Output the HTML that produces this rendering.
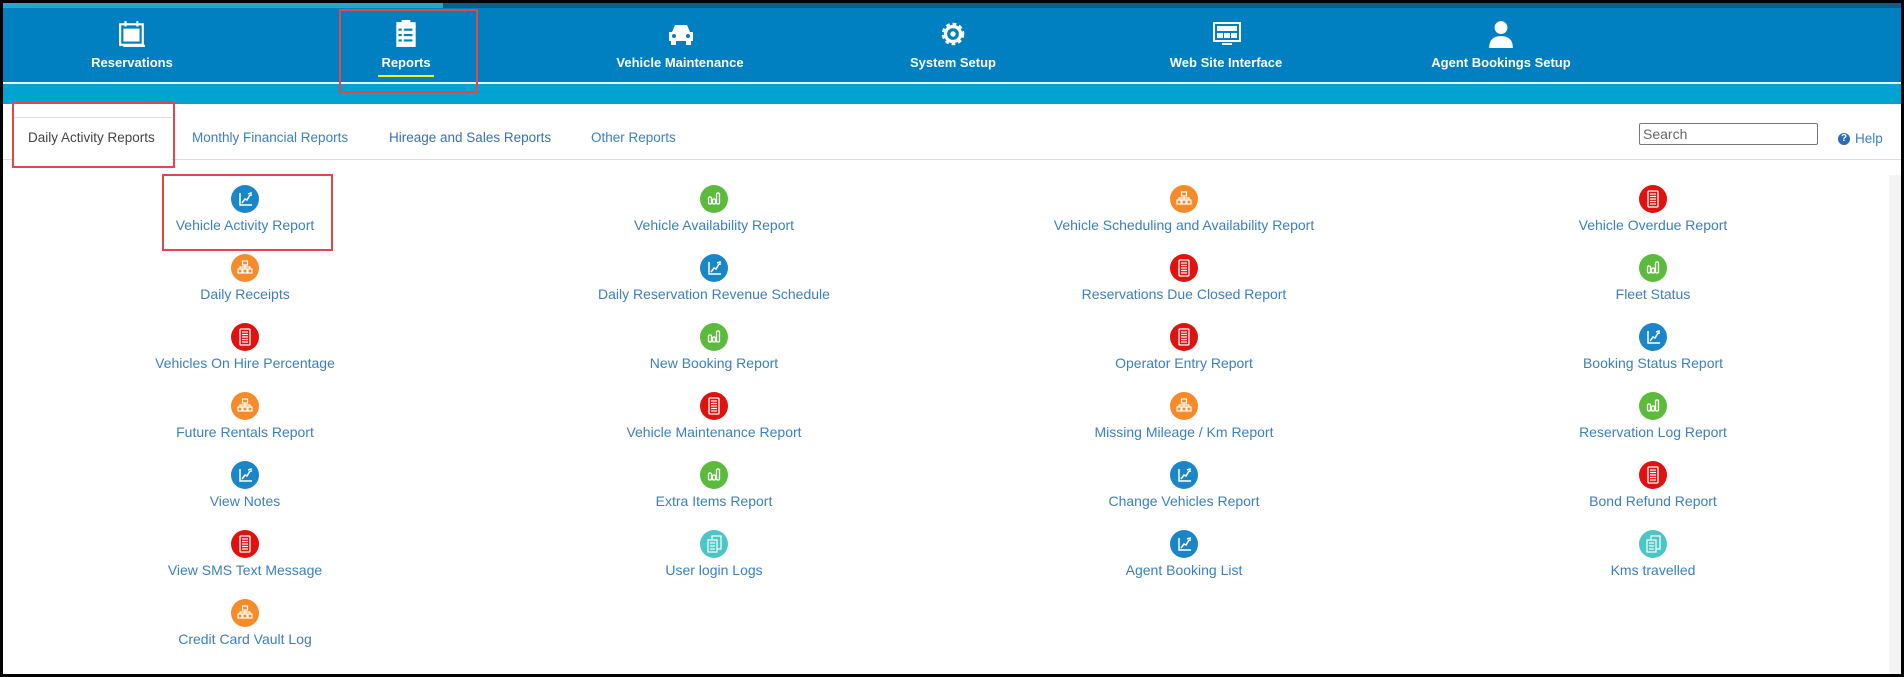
<!DOCTYPE html>
<html><head><meta charset="utf-8">
<style>
*{margin:0;padding:0;box-sizing:border-box}
body{width:1904px;height:677px;background:#000;position:relative;overflow:hidden;font-family:"Liberation Sans",Arial,sans-serif}
#page{position:absolute;left:3px;top:3px;width:1898px;height:671px;background:#fff;overflow:hidden}
.nav{position:absolute;left:0;top:5px;width:1898px;height:74px;background:#0180c1}
.topline{position:absolute;left:0;top:0;width:1898px;height:5px;background:#0a5f85}
.topline2{position:absolute;left:0;top:0;width:440px;height:5px;background:#2aa3cf}
.wline{position:absolute;left:0;top:79px;width:1898px;height:2px;background:#e8f4fa}
.sub{position:absolute;left:0;top:81px;width:1898px;height:20px;background:#01a4d1}
.ni{position:absolute;top:0;width:240px;margin-left:-120px;text-align:center;color:#fff}
.ni svg{position:absolute;left:106px;top:12px}
.ni span{position:absolute;left:0;width:240px;top:47px;font-weight:bold;font-size:13px;display:block}
.tab{position:absolute;top:127px;font-size:13.5px;color:#3b7fc0;white-space:nowrap}
.hline{position:absolute;left:0;top:156px;width:1898px;height:1px;background:#ddd}
.red{position:absolute;border:2px solid #e34848}
.it{position:absolute;width:400px;margin-left:-200px;text-align:center}
.it svg{display:block;margin:0 auto}
.it span{display:block;font-size:14px;color:#3b7fc0;white-space:nowrap;margin-top:4px}
</style></head><body>
<div id="page">
<div class="topline"></div><div class="topline2"></div>
<div class="nav">
 <div class="ni" style="left:129px"><svg width="28" height="28" viewBox="0 0 26 26"><rect x="2" y="4" width="21" height="19" fill="none" stroke="#fff" stroke-width="2"/><rect x="5" y="8" width="15" height="12" fill="#fff"/><rect x="6" y="1" width="2" height="5" fill="#fff"/><rect x="17" y="1" width="2" height="5" fill="#fff"/><rect x="5" y="23" width="20" height="2" fill="#fff"/></svg><span>Reservations</span></div>
 <div class="ni" style="left:403px"><svg width="28" height="28" viewBox="0 0 26 26"><rect x="4" y="2" width="18" height="23" fill="#fff"/><rect x="9" y="0" width="8" height="4" fill="#fff"/><g stroke="#0180c1" stroke-width="2"><line x1="11" y1="9" x2="19" y2="9"/><line x1="11" y1="14" x2="19" y2="14"/><line x1="11" y1="19" x2="19" y2="19"/><line x1="6" y1="9" x2="9" y2="9"/><line x1="6" y1="14" x2="9" y2="14"/><line x1="6" y1="19" x2="9" y2="19"/></g></svg><span>Reports</span><div style="position:absolute;left:92px;top:67px;width:56px;height:2px;background:#f2ef1a"></div></div>
 <div class="ni" style="left:677px"><svg width="30" height="28" viewBox="0 0 30 26"><path d="M6 11 L9 4 H21 L24 11 H27 V20 H3 V11Z" fill="#fff"/><rect x="5" y="19" width="5" height="5" fill="#fff"/><rect x="20" y="19" width="5" height="5" fill="#fff"/><circle cx="8" cy="15" r="2" fill="#0180c1"/><circle cx="22" cy="15" r="2" fill="#0180c1"/></svg><span>Vehicle Maintenance</span></div>
 <div class="ni" style="left:950px"><svg width="28" height="28" viewBox="0 0 26 26"><circle cx="13" cy="13" r="8" fill="none" stroke="#fff" stroke-width="5" stroke-dasharray="3 2.3"/><circle cx="13" cy="13" r="7" fill="none" stroke="#fff" stroke-width="3"/><circle cx="13" cy="13" r="2.5" fill="#fff"/></svg><span>System Setup</span></div>
 <div class="ni" style="left:1223px"><svg width="30" height="28" viewBox="0 0 30 26"><rect x="2" y="2" width="26" height="18" fill="none" stroke="#fff" stroke-width="2"/><rect x="5" y="5" width="20" height="5" fill="#fff"/><rect x="5" y="12" width="6" height="5" fill="#fff"/><rect x="12" y="12" width="6" height="5" fill="#fff"/><rect x="19" y="12" width="6" height="5" fill="#fff"/><rect x="10" y="22" width="10" height="2" fill="#fff"/></svg><span>Web Site Interface</span></div>
 <div class="ni" style="left:1498px"><svg width="28" height="28" viewBox="0 0 26 26"><circle cx="13" cy="7" r="6" fill="#fff"/><path d="M2 26 Q2 15 13 15 Q24 15 24 26Z" fill="#fff"/></svg><span>Agent Bookings Setup</span></div>
</div>
<div class="wline"></div>
<div class="sub"></div>
<div class="red" style="left:336px;top:6px;width:139px;height:84px"></div>

<div class="hline"></div>
<div style="position:absolute;left:9px;top:114px;width:160px;height:43px;background:#fff;border-top:1px solid #ddd"></div>
<div class="tab" style="left:25px;color:#444">Daily Activity Reports</div>
<div class="tab" style="left:189px">Monthly Financial Reports</div>
<div class="tab" style="left:386px;color:#3b6fb0">Hireage and Sales Reports</div>
<div class="tab" style="left:588px">Other Reports</div>
<div class="red" style="left:9px;top:99px;width:163px;height:66px"></div>
<div style="position:absolute;left:1636px;top:120px;width:179px;height:22px;border:1px solid #777;border-radius:2px;font-size:14px;color:#666;padding:2px 3px">Search</div>
<div style="position:absolute;left:1835px;top:130px;width:12px;height:12px;border-radius:50%;background:#2a6db0;color:#fff;font-size:10px;font-weight:bold;text-align:center;line-height:12px">?</div>
<div class="tab" style="left:1852px;top:128px">Help</div>
<div style="position:absolute;left:1886px;top:172px;width:12px;height:500px;background:#f4f4f4"></div>

<svg width="0" height="0" style="position:absolute">
<defs>
<g id="chart"><path d="M9 8 V20 H21" fill="none" stroke="#fff" stroke-width="1.5"/><path d="M11 18 L14 14 L16 15 L19 10" fill="none" stroke="#fff" stroke-width="1.5"/><path d="M17 9 L20 8 L20 11" fill="none" stroke="#fff" stroke-width="1.5"/></g>
<g id="bars"><rect x="8.5" y="12" width="3" height="7" rx="1.2" fill="none" stroke="#fff" stroke-width="1.3"/><rect x="12.5" y="14" width="3" height="5" rx="1.2" fill="none" stroke="#fff" stroke-width="1.3"/><rect x="16.5" y="8" width="3" height="11" rx="1.2" fill="none" stroke="#fff" stroke-width="1.3"/></g>
<g id="org" fill="none" stroke="#fff" stroke-width="1.2"><rect x="11.5" y="7" width="5" height="4"/><path d="M14 11 V13 M9 15 V13 H19 V15 M14 13 V15"/><rect x="7" y="15" width="4" height="4"/><rect x="12" y="15" width="4" height="4"/><rect x="17" y="15" width="4" height="4"/></g>
<g id="doc"><rect x="9" y="6" width="10" height="16" rx="1" fill="none" stroke="#fff" stroke-width="1.3"/><g stroke="#fff" stroke-width="1.2"><line x1="11" y1="9" x2="17" y2="9"/><line x1="11" y1="11.5" x2="17" y2="11.5"/><line x1="11" y1="14" x2="17" y2="14"/><line x1="11" y1="16.5" x2="17" y2="16.5"/><line x1="11" y1="19" x2="17" y2="19"/></g></g>
<g id="docs" fill="none" stroke="#fff" stroke-width="1.2"><rect x="12" y="6" width="9" height="13"/><rect x="8" y="10" width="9" height="12" fill="#4cc6c4"/><line x1="10" y1="13" x2="15" y2="13"/><line x1="10" y1="16" x2="15" y2="16"/><line x1="10" y1="19" x2="15" y2="19"/></g>
</defs></svg>

<div id="items"></div>
<div class="red" style="left:159px;top:171px;width:171px;height:77px"></div>
</div>
<script>
var C={b:['#1a86c8','chart'],g:['#5cbb3c','bars'],o:['#f58b2a','org'],r:['#e0120f','doc'],t:['#4cc6c4','docs']};
var cols=[[242,[['b','Vehicle Activity Report'],['o','Daily Receipts'],['r','Vehicles On Hire Percentage'],['o','Future Rentals Report'],['b','View Notes'],['r','View SMS Text Message'],['o','Credit Card Vault Log']]],
[711,[['g','Vehicle Availability Report'],['b','Daily Reservation Revenue Schedule'],['g','New Booking Report'],['r','Vehicle Maintenance Report'],['g','Extra Items Report'],['t','User login Logs']]],
[1181,[['o','Vehicle Scheduling and Availability Report'],['r','Reservations Due Closed Report'],['r','Operator Entry Report'],['o','Missing Mileage / Km Report'],['b','Change Vehicles Report'],['b','Agent Booking List']]],
[1650,[['r','Vehicle Overdue Report'],['g','Fleet Status'],['b','Booking Status Report'],['g','Reservation Log Report'],['r','Bond Refund Report'],['t','Kms travelled']]]];
var h='';
cols.forEach(function(c){c[1].forEach(function(it,i){var k=C[it[0]];var top=182+i*69;
h+='<div class="it" style="left:'+c[0]+'px;top:'+top+'px"><svg width="28" height="28" viewBox="0 0 28 28"><circle cx="14" cy="14" r="14" fill="'+k[0]+'"/><use href="#'+k[1]+'"/></svg><span>'+it[1]+'</span></div>';});});
document.getElementById('items').innerHTML=h;
</script>
</body></html>
